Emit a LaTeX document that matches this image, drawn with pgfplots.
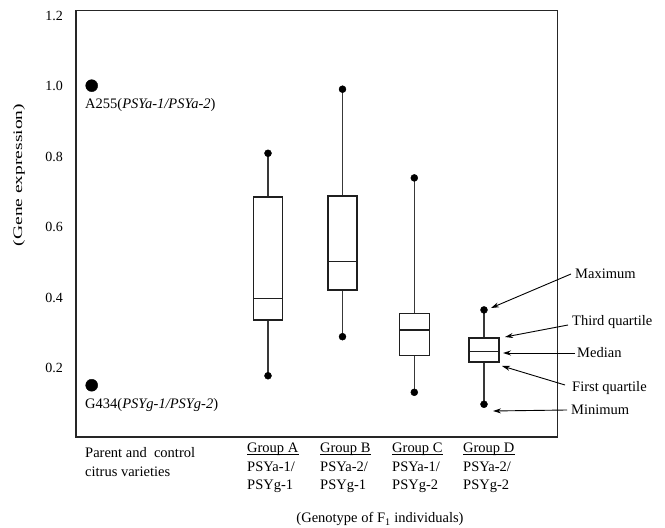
\documentclass[border=0pt]{standalone}
\usepackage{graphicx}
\usepackage{pgfplots}
\pgfplotsset{compat=1.18}
\usepgfplotslibrary{statistics}
\usetikzlibrary{arrows.meta}
\usepackage{fontspec}
\setmainfont{Liberation Serif}
\begin{document}
\fontsize{14.5}{17}\selectfont
\begin{tikzpicture}
\useasboundingbox (0pt,0pt) rectangle (665pt,528pt);
\begin{axis}[
  at={(76pt,91pt)}, anchor=south west,
  width=481.5pt, height=426.3pt, scale only axis,
  xmin=0.76, xmax=5.575, ymin=0.004, ymax=1.215,
  xtick=\empty,
  ytick={0.2,0.4,0.6,0.8,1.0,1.2},
  yticklabels={0.2,0.4,0.6,0.8,1.0,1.2},
  major tick length=0pt,
  yticklabel style={anchor=east, inner sep=0pt, xshift=-13pt, font=\fontsize{14}{16}\selectfont},
  axis line style={line width=1.2pt, black!85},
  clip=false,
  boxplot/draw direction=y,
  boxplot/every box/.style={draw=black!88, line width=1.6pt, fill=white},
  boxplot/every median/.style={draw=black!88, line width=1.3pt},
  boxplot/every whisker/.style={draw=black!78, line width=1.5pt},
]
\addplot[boxplot prepared={draw position=2.68, lower whisker=0.178, lower quartile=0.336, median=0.398, upper quartile=0.685, upper whisker=0.810, box extend=0.29, whisker extend=0.001}] coordinates {};
\addplot[boxplot prepared={draw position=3.425, lower whisker=0.289, lower quartile=0.421, median=0.503, upper quartile=0.689, upper whisker=0.992, box extend=0.295, whisker extend=0.001}] coordinates {};
\addplot[boxplot prepared={draw position=4.143, lower whisker=0.131, lower quartile=0.236, median=0.308, upper quartile=0.355, upper whisker=0.740, box extend=0.30, whisker extend=0.001}] coordinates {};
\addplot[boxplot prepared={draw position=4.84, lower whisker=0.097, lower quartile=0.217, median=0.246, upper quartile=0.286, upper whisker=0.365, box extend=0.297, whisker extend=0.001}] coordinates {};
\addplot[only marks, mark=*, mark size=3.5pt, black] coordinates {(2.68,0.810)(2.68,0.178)(3.425,0.992)(3.425,0.289)(4.143,0.740)(4.143,0.131)(4.84,0.365)(4.84,0.097)};
\addplot[only marks, mark=*, mark size=6pt, black] coordinates {(0.917,1.002)(0.917,0.151)};
\end{axis}
\begin{scope}[x=1pt,y=1pt]
% y label
\node[rotate=90, font=\fontsize{13}{15}\selectfont] at (19,353) {\scalebox{1.5}[1]{(Gene expression)}};
% parent labels
\node[anchor=west, inner sep=0pt] at (85,423) {A255(\textit{PSYa-1/PSYa-2})};
\node[anchor=west, inner sep=0pt] at (85,123) {G434(\textit{PSYg-1/PSYg-2})};
% annotations
\begin{scope}[line width=0.9pt, -{Stealth[length=8pt,width=5pt]}]
\draw (571,254) -- (491,220);
\draw (568,203) -- (505,191);
\draw (575,175) -- (503,175);
\draw (565,143) -- (502,162);
\draw (567,118) -- (493,117);
\end{scope}
\node[anchor=west, inner sep=0pt] at (575,254) {Maximum};
\node[anchor=west, inner sep=0pt] at (572,206) {Third quartile};
\node[anchor=west, inner sep=0pt] at (577,175) {Median};
\node[anchor=west, inner sep=0pt] at (572,140) {First quartile};
\node[anchor=west, inner sep=0pt] at (571,118) {Minimum};
% bottom labels
\node[anchor=base west, inner sep=0pt] at (85,70.5) {Parent and\ \ control};
\node[anchor=base west, inner sep=0pt] at (85,51.5) {citrus varieties};
\node[anchor=base west, inner sep=0pt] (gA) at (247,75.5) {Group A};
\node[anchor=base west, inner sep=0pt] (gB) at (320,75.5) {Group B};
\node[anchor=base west, inner sep=0pt] (gC) at (392,75.5) {Group C};
\node[anchor=base west, inner sep=0pt] (gD) at (463,75.5) {Group D};
\foreach \n in {gA,gB,gC,gD}{
  \draw[line width=0.7pt] ([yshift=-2pt]\n.base west) -- ([yshift=-2pt]\n.base east);
}
\node[anchor=base west, inner sep=0pt] at (247,56.8) {PSYa-1/};
\node[anchor=base west, inner sep=0pt] at (320,56.8) {PSYa-2/};
\node[anchor=base west, inner sep=0pt] at (392,56.8) {PSYa-1/};
\node[anchor=base west, inner sep=0pt] at (463,56.8) {PSYa-2/};
\node[anchor=base west, inner sep=0pt] at (247,38.5) {PSYg-1};
\node[anchor=base west, inner sep=0pt] at (320,38.5) {PSYg-1};
\node[anchor=base west, inner sep=0pt] at (392,38.5) {PSYg-2};
\node[anchor=base west, inner sep=0pt] at (463,38.5) {PSYg-2};
\node[anchor=base, inner sep=0pt] at (380,5) {(Genotype of F\textsubscript{1} individuals)};
\end{scope}
\end{tikzpicture}
\end{document}
